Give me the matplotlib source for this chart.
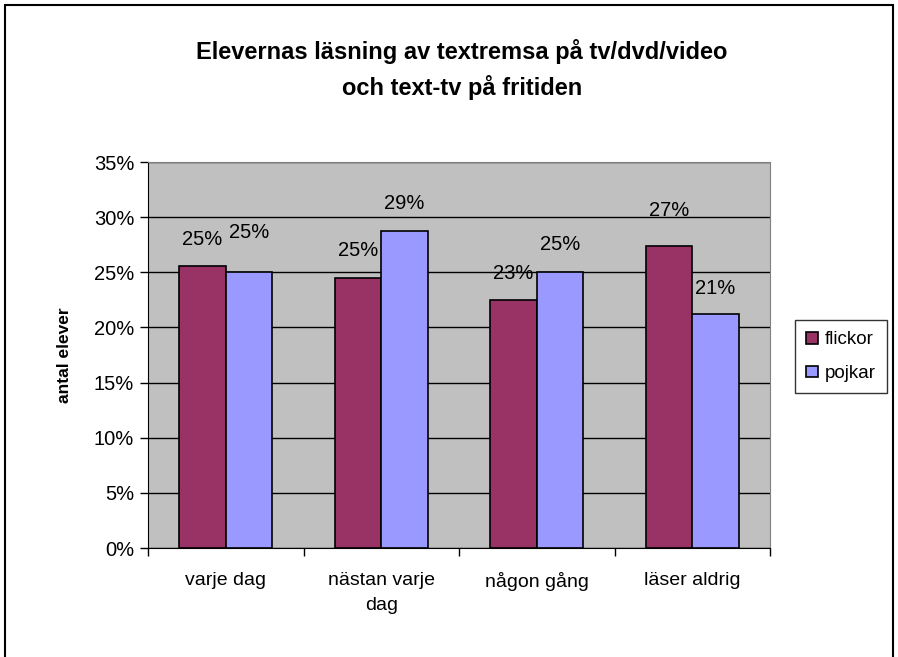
#Grouped bar chart - textremsa / text-tv

#Importing libraries
import numpy as np
import matplotlib.pyplot as plt
from matplotlib.ticker import PercentFormatter, FixedLocator

plt.rcParams['font.family'] = ['Liberation Sans', 'DejaVu Sans']

#Data
categories = ['varje dag', 'nästan varje\ndag', 'någon gång', 'läser aldrig']
flickor = [25.6, 24.5, 22.5, 27.4]
pojkar = [25.0, 28.7, 25.0, 21.2]
flickor_labels = ['25%', '25%', '23%', '27%']
pojkar_labels = ['25%', '29%', '25%', '21%']

#Label offsets above the bars (percentage points)
flickor_off = [2.4, 2.5, 2.4, 3.2]
pojkar_off = [3.6, 2.5, 2.5, 2.3]

fig = plt.figure(figsize=(8.98, 6.57), dpi=100)
ax = fig.add_axes([148/898, 1-548/657, 622/898, 386/657])
ax.set_facecolor('#C0C0C0')

x = np.arange(len(categories))
w = 0.3
ax.bar(x - w/2, flickor, w, color='#993366', edgecolor='black', linewidth=1.2, label='flickor', zorder=3)
ax.bar(x + w/2, pojkar, w, color='#9999FF', edgecolor='black', linewidth=1.2, label='pojkar', zorder=3)

for i in range(len(categories)):
    ax.text(x[i] - w/2, flickor[i] + flickor_off[i], flickor_labels[i], ha='center', va='center', fontsize=14.5, zorder=4)
    ax.text(x[i] + w/2, pojkar[i] + pojkar_off[i], pojkar_labels[i], ha='center', va='center', fontsize=14.5, zorder=4)

ax.set_xlim(-0.5, len(categories) - 0.5)
ax.set_ylim(0, 35)
ax.set_yticks(np.arange(0, 36, 5))
ax.yaxis.set_major_formatter(PercentFormatter(decimals=0))
ax.yaxis.grid(True, color='black', linewidth=1, zorder=0)
ax.set_axisbelow(True)

ax.set_xticks(x)
ax.set_xticklabels(categories, fontsize=14, linespacing=1.65)
ax.xaxis.set_minor_locator(FixedLocator(np.arange(-0.5, len(categories), 1)))
ax.tick_params(axis='x', which='major', length=0, pad=17)
ax.tick_params(axis='x', which='minor', length=6, width=1, direction='out')
ax.tick_params(axis='y', length=6, width=1, direction='out', labelsize=14.5, pad=4)

ax.spines['left'].set_color('black')
ax.spines['bottom'].set_color('black')
ax.spines['top'].set_color('#808080')
ax.spines['right'].set_color('#808080')

ax.set_ylabel('antal elever', fontsize=12.5, fontweight='bold')
ax.yaxis.set_label_coords((72 - 148) / 622, 0.5)

fig.text(462/898, 1 - 52/657, 'Elevernas läsning av textremsa på tv/dvd/video',
         ha='center', va='center', fontsize=17, fontweight='bold')
fig.text(462/898, 1 - 88/657, 'och text-tv på fritiden',
         ha='center', va='center', fontsize=17, fontweight='bold')

leg = ax.legend(loc='upper left', bbox_to_anchor=(795/898, 1 - 320/657), bbox_transform=fig.transFigure,
                frameon=True, fancybox=False, edgecolor='black', fontsize=13.5,
                handlelength=0.6, handleheight=0.6, handletextpad=0.4, labelspacing=0.9,
                borderpad=0.6, borderaxespad=0)
leg.get_frame().set_linewidth(1)

#Outer border
fig.patches.append(plt.Rectangle((5/898, -0.01), 888/898, 1 - 5/657 + 0.01, transform=fig.transFigure,
                                 fill=False, edgecolor='black', linewidth=1.5))

plt.savefig('out.png', dpi=100)
